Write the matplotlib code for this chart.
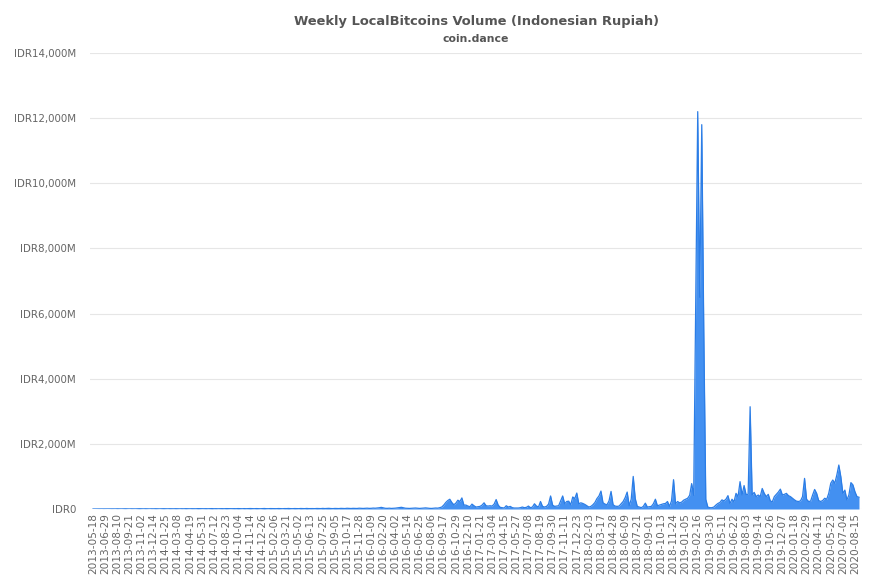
import matplotlib
matplotlib.use("Agg")
import matplotlib.pyplot as plt

plt.rcParams['font.family'] = ['DejaVu Sans']

title = "Weekly LocalBitcoins Volume (Indonesian Rupiah)"
subtitle = "coin.dance"

# weekly volume, millions of IDR
volume_m = [
    0, 0, 1, 2, 1, 3, 2, 1, 2, 4,
    3, 2, 5, 3, 2, 4, 6, 3, 2, 5,
    4, 3, 6, 8, 5, 4, 7, 5, 3, 6,
    5, 8, 6, 4, 7, 9, 6, 5, 8, 7,
    6, 9, 7, 5, 8, 6, 10, 7, 6, 9,
    8, 7, 11, 9, 6, 8, 10, 7, 9, 12,
    8, 10, 7, 9, 11, 8, 12, 10, 7, 9,
    11, 9, 13, 10, 8, 12, 9, 11, 14, 10,
    9, 13, 11, 8, 12, 15, 10, 9, 13, 11,
    12, 10, 14, 11, 9, 13, 12, 16, 11, 10,
    14, 12, 10, 15, 13, 11, 17, 12, 14, 13,
    11, 16, 14, 12, 18, 13, 15, 20, 14, 12,
    17, 15, 13, 19, 16, 14, 22, 18, 15, 20,
    18, 16, 24, 20, 17, 22, 25, 19, 21, 28,
    24, 30, 38, 50, 35, 22, 20, 25, 18, 22,
    26, 35, 45, 52, 38, 24, 20, 18, 22, 26,
    30, 24, 18, 22, 28, 34, 26, 20, 18, 24,
    30, 26, 40, 60, 120, 200, 260, 300, 200, 130,
    180, 270, 230, 340, 120, 120, 90, 70, 150, 100,
    60, 70, 80, 120, 190, 100, 90, 100, 90, 150,
    290, 120, 50, 40, 30, 100, 60, 80, 40, 30,
    30, 30, 40, 60, 40, 50, 90, 40, 60, 160,
    90, 60, 230, 80, 60, 80, 150, 400, 120, 80,
    90, 100, 250, 400, 160, 230, 240, 130, 370, 320,
    490, 160, 190, 170, 140, 100, 60, 80, 130, 200,
    320, 400, 550, 190, 150, 130, 250, 540, 130, 90,
    80, 90, 160, 230, 350, 520, 100, 300, 1000, 320,
    80, 60, 40, 80, 180, 60, 70, 80, 160, 300,
    100, 120, 140, 160, 170, 230, 80, 250, 900, 160,
    230, 190, 210, 270, 300, 330, 420, 780, 420, 6300,
    12200, 6500, 11800, 5500, 300, 60, 40, 40, 60, 120,
    170, 200, 280, 250, 300, 410, 170, 300, 220, 480,
    380, 840, 430, 720, 440, 450, 3140, 430, 510, 380,
    430, 380, 630, 480, 380, 450, 250, 220, 380, 450,
    520, 610, 430, 450, 480, 410, 380, 330, 280, 240,
    230, 250, 380, 940, 300, 230, 240, 430, 600, 480,
    260, 230, 260, 330, 300, 480, 790, 890, 790, 1040,
    1350, 990, 480, 580, 280, 430, 810, 740, 530, 380,
    360,
]

# every 6th week label, as shown on the chart
tick_labels = [
    "2013-05-18", "2013-06-29", "2013-08-10", "2013-09-21", "2013-11-02",
    "2013-12-14", "2014-01-25", "2014-03-08", "2014-04-19", "2014-05-31",
    "2014-07-12", "2014-08-23", "2014-10-04", "2014-11-14", "2014-12-26",
    "2015-02-06", "2015-03-21", "2015-05-02", "2015-06-13", "2015-07-25",
    "2015-09-05", "2015-10-17", "2015-11-28", "2016-01-09", "2016-02-20",
    "2016-04-02", "2016-05-14", "2016-06-25", "2016-08-06", "2016-09-17",
    "2016-10-29", "2016-12-10", "2017-01-21", "2017-03-04", "2017-04-15",
    "2017-05-27", "2017-07-08", "2017-08-19", "2017-09-30", "2017-11-11",
    "2017-12-23", "2018-02-03", "2018-03-17", "2018-04-28", "2018-06-09",
    "2018-07-21", "2018-09-01", "2018-10-13", "2018-11-24", "2019-01-05",
    "2019-02-16", "2019-03-30", "2019-05-11", "2019-06-22", "2019-08-03",
    "2019-09-14", "2019-10-26", "2019-12-07", "2020-01-18", "2020-02-29",
    "2020-04-11", "2020-05-23", "2020-07-04", "2020-08-15",
]
label_step = 6
y_ticks = [0, 2000, 4000, 6000, 8000, 10000, 12000, 14000]

W, H = 877, 585
fig = plt.figure(figsize=(W / 100, H / 100), dpi=100)
L, R, B, T = 90, 862, 509, 53
ax = fig.add_axes([L / W, 1 - B / H, (R - L) / W, (B - T) / H])

x = list(range(len(volume_m)))
fill_c = "#4390f1"
line_c = "#2b7de6"
ax.fill_between(x, volume_m, 0, color=fill_c, lw=0, zorder=2)
ax.plot(x, volume_m, color=line_c, lw=0.9, zorder=3)

ax.set_xlim(-1.5, len(volume_m) + 0.5)
ax.set_ylim(0, 14000)

ax.set_yticks(y_ticks)
ax.set_yticklabels(["IDR0" if v == 0 else f"IDR{v:,}M" for v in y_ticks],
                   fontsize=7.4, color="#666666")
ax.tick_params(axis="y", length=0, pad=10)
ax.grid(axis="y", color="#e6e6e6", lw=0.8, zorder=0)
ax.set_axisbelow(True)

tick_pos = [i * label_step for i in range(len(tick_labels))]
ax.set_xticks(tick_pos)
ax.set_xticklabels(tick_labels, rotation=90, fontsize=7.6,
                   color="#666666", va="top", ha="center")
ax.tick_params(axis="x", length=0, pad=3)

for s in ax.spines.values():
    s.set_visible(False)

cx = ((L + R) / 2) / W
fig.text(cx, 1 - 22 / H, title, ha="center", va="center", fontsize=9.4,
         fontweight="bold", color="#555555")
fig.text(cx, 1 - 39 / H, subtitle, ha="center", va="center", fontsize=7.8,
         fontweight="bold", color="#555555")

fig.savefig("out.png", dpi=100, facecolor="white")
